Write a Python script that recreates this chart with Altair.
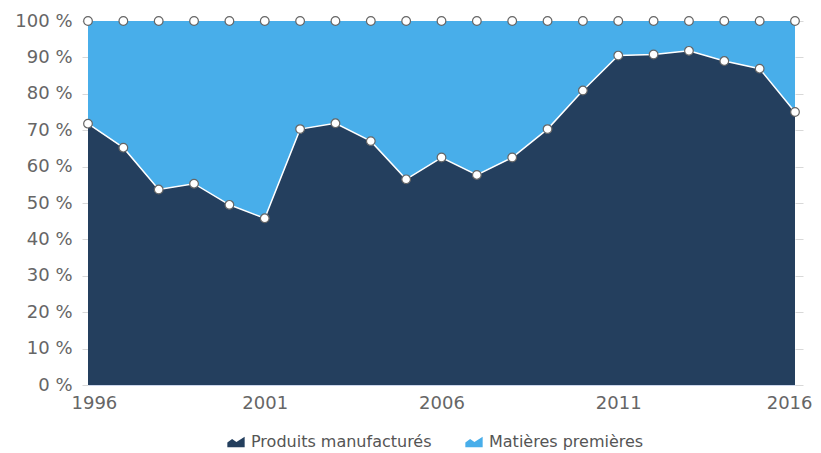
import altair as alt
import pandas as pd

years = list(range(1996, 2017))
manufactures = [71.8, 65.2, 53.7, 55.3, 49.5, 45.8, 70.3, 71.9, 67.0, 56.5,
                62.5, 57.7, 62.5, 70.3, 80.9, 90.5, 90.8, 91.8, 89.0, 86.9, 75.0]
matieres = [round(100 - v, 1) for v in manufactures]
series = ["Produits manufacturés", "Matières premières"]
colors = ["#243f5e", "#48aeea"]
ytick_values = list(range(0, 101, 10))
xtick_values = [1996, 2001, 2006, 2011, 2016]

rows = []
for i, y in enumerate(years):
    rows.append({"year": y, "series": series[0], "value": manufactures[i], "order": 0})
    rows.append({"year": y, "series": series[1], "value": matieres[i], "order": 1})
df = pd.DataFrame(rows)

base = alt.Chart(df).transform_stack(
    stack="value", groupby=["year"], as_=["y0", "y1"],
    sort=[alt.SortField("order", order="ascending")]
)

x = alt.X("year:Q", scale=alt.Scale(domain=[1996, 2016], nice=False, zero=False),
          axis=alt.Axis(values=xtick_values, format="d", title=None,
                        ticks=False, grid=False, labelFontSize=18, labelColor="#666666",
                        labelPadding=9, labelFlush=True, labelFlushOffset=17,
                        domainColor="#ccd6eb", labelFont="DejaVu Sans"))
yscale = alt.Scale(domain=[0, 100], nice=False)
yaxis = alt.Axis(values=ytick_values, labelExpr="datum.value + ' %'", title=None,
                 grid=False, tickColor="#d8d8d8", tickSize=6, labelFontSize=18,
                 labelColor="#666666", labelPadding=10, domain=False, labelFont="DejaVu Sans")
yaxis_right = alt.Axis(orient="right", values=ytick_values, labels=False, title=None,
                       grid=False, tickColor="#d8d8d8", tickSize=8, domain=False)

area = base.mark_area(opacity=1).encode(
    x=x,
    y=alt.Y("y1:Q", scale=yscale, axis=yaxis),
    y2="y0:Q",
    color=alt.Color("series:N", scale=alt.Scale(domain=series, range=colors),
                    sort=series,
                    legend=alt.Legend(title=None, orient="none", direction="horizontal",
                                      legendX=139, legendY=412, padding=0,
                                      symbolType="M-1,0.6 L-1,0.05 L-0.45,-0.35 L0.05,0 L1,-0.6 L1,0.6 Z",
                                      symbolSize=300, symbolStrokeWidth=0,
                                      labelFontSize=16, labelColor="#555555",
                                      labelFont="DejaVu Sans", columnPadding=33,
                                      labelLimit=400, labelOffset=6)),
    order=alt.Order("order:Q"),
)

line = base.transform_filter(alt.datum.order == 0).mark_line(color="white", strokeWidth=1.5).encode(
    x=x, y=alt.Y("y1:Q", scale=yscale, axis=None)
)

points = base.mark_point(filled=True, fill="white", stroke="#666666", strokeWidth=1.2,
                         size=75, opacity=1).encode(
    x=x, y=alt.Y("y1:Q", scale=yscale, axis=yaxis_right)
)

chart = alt.layer(area, line, points).resolve_axis(y="independent").properties(
    width=707, height=364,
    autosize=alt.AutoSizeParams(type="none"),
    padding={"left": 80, "top": 13, "right": 18, "bottom": 65},
).configure_view(stroke=None)

chart.save("out.html", embed_options={"renderer": "svg", "actions": False})
